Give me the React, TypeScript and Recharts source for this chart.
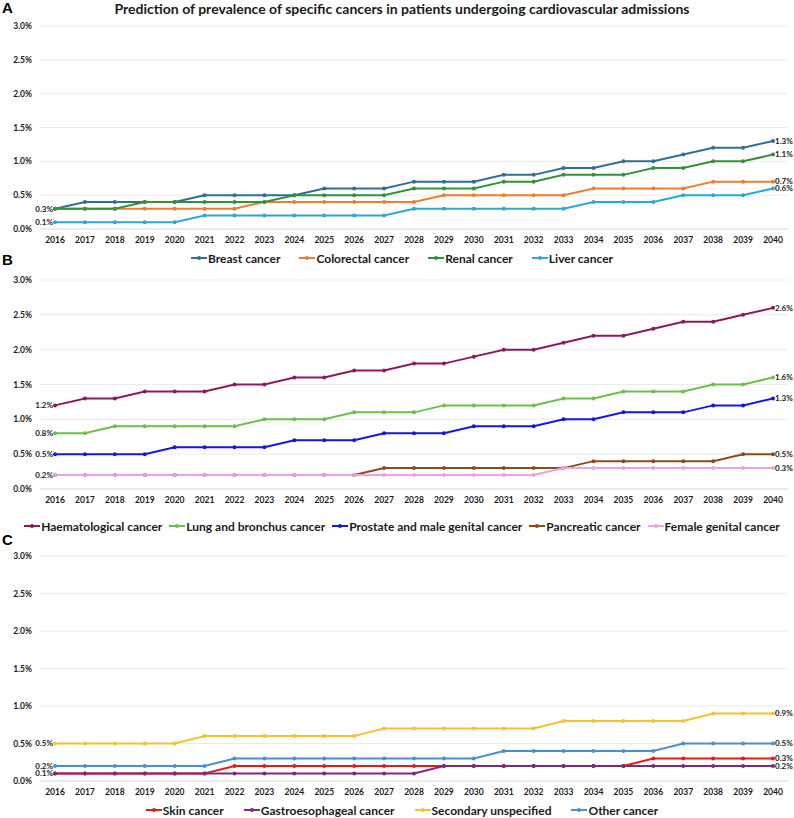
import React from 'react';
import { LineChart, Line, XAxis, YAxis, CartesianGrid, LabelList } from 'recharts';

const years = ['2016','2017','2018','2019','2020','2021','2022','2023','2024','2025','2026','2027','2028','2029','2030','2031','2032','2033','2034','2035','2036','2037','2038','2039','2040'];
const yTicks = [0, 0.5, 1.0, 1.5, 2.0, 2.5, 3.0];

// Panel A
const breast = [0.3,0.4,0.4,0.4,0.4,0.5,0.5,0.5,0.5,0.6,0.6,0.6,0.7,0.7,0.7,0.8,0.8,0.9,0.9,1.0,1.0,1.1,1.2,1.2,1.3];
const colorectal = [0.3,0.3,0.3,0.3,0.3,0.3,0.3,0.4,0.4,0.4,0.4,0.4,0.4,0.5,0.5,0.5,0.5,0.5,0.6,0.6,0.6,0.6,0.7,0.7,0.7];
const renal = [0.3,0.3,0.3,0.4,0.4,0.4,0.4,0.4,0.5,0.5,0.5,0.5,0.6,0.6,0.6,0.7,0.7,0.8,0.8,0.8,0.9,0.9,1.0,1.0,1.1];
const liver = [0.1,0.1,0.1,0.1,0.1,0.2,0.2,0.2,0.2,0.2,0.2,0.2,0.3,0.3,0.3,0.3,0.3,0.3,0.4,0.4,0.4,0.5,0.5,0.5,0.6];

// Panel B
const haematological = [1.2,1.3,1.3,1.4,1.4,1.4,1.5,1.5,1.6,1.6,1.7,1.7,1.8,1.8,1.9,2.0,2.0,2.1,2.2,2.2,2.3,2.4,2.4,2.5,2.6];
const lung = [0.8,0.8,0.9,0.9,0.9,0.9,0.9,1.0,1.0,1.0,1.1,1.1,1.1,1.2,1.2,1.2,1.2,1.3,1.3,1.4,1.4,1.4,1.5,1.5,1.6];
const prostate = [0.5,0.5,0.5,0.5,0.6,0.6,0.6,0.6,0.7,0.7,0.7,0.8,0.8,0.8,0.9,0.9,0.9,1.0,1.0,1.1,1.1,1.1,1.2,1.2,1.3];
const pancreatic = [0.2,0.2,0.2,0.2,0.2,0.2,0.2,0.2,0.2,0.2,0.2,0.3,0.3,0.3,0.3,0.3,0.3,0.3,0.4,0.4,0.4,0.4,0.4,0.5,0.5];
const femaleGenital = [0.2,0.2,0.2,0.2,0.2,0.2,0.2,0.2,0.2,0.2,0.2,0.2,0.2,0.2,0.2,0.2,0.2,0.3,0.3,0.3,0.3,0.3,0.3,0.3,0.3];

// Panel C
const skin = [0.1,0.1,0.1,0.1,0.1,0.1,0.2,0.2,0.2,0.2,0.2,0.2,0.2,0.2,0.2,0.2,0.2,0.2,0.2,0.2,0.3,0.3,0.3,0.3,0.3];
const gastro = [0.1,0.1,0.1,0.1,0.1,0.1,0.1,0.1,0.1,0.1,0.1,0.1,0.1,0.2,0.2,0.2,0.2,0.2,0.2,0.2,0.2,0.2,0.2,0.2,0.2];
const secondary = [0.5,0.5,0.5,0.5,0.5,0.6,0.6,0.6,0.6,0.6,0.6,0.7,0.7,0.7,0.7,0.7,0.7,0.8,0.8,0.8,0.8,0.8,0.9,0.9,0.9];
const other = [0.2,0.2,0.2,0.2,0.2,0.2,0.3,0.3,0.3,0.3,0.3,0.3,0.3,0.3,0.3,0.4,0.4,0.4,0.4,0.4,0.4,0.5,0.5,0.5,0.5];

type Series = { key: string; name: string; color: string; values: number[]; startLabel: boolean };

const seriesA: Series[] = [
  { key: 'breast', name: 'Breast cancer', color: '#2F6F91', values: breast, startLabel: true },
  { key: 'colorectal', name: 'Colorectal cancer', color: '#ED7D31', values: colorectal, startLabel: false },
  { key: 'renal', name: 'Renal cancer', color: '#32913A', values: renal, startLabel: false },
  { key: 'liver', name: 'Liver cancer', color: '#2EA6DA', values: liver, startLabel: true },
];
const seriesB: Series[] = [
  { key: 'haem', name: 'Haematological cancer', color: '#8C1A5C', values: haematological, startLabel: true },
  { key: 'lung', name: 'Lung and bronchus cancer', color: '#6CC04A', values: lung, startLabel: true },
  { key: 'prostate', name: 'Prostate and male genital cancer', color: '#1616E0', values: prostate, startLabel: true },
  { key: 'pancreatic', name: 'Pancreatic cancer', color: '#8E4A18', values: pancreatic, startLabel: false },
  { key: 'female', name: 'Female genital cancer', color: '#E6A5E2', values: femaleGenital, startLabel: true },
];
const seriesC: Series[] = [
  { key: 'skin', name: 'Skin cancer', color: '#E31B1B', values: skin, startLabel: false },
  { key: 'gastro', name: 'Gastroesophageal cancer', color: '#772C7C', values: gastro, startLabel: true },
  { key: 'secondary', name: 'Secondary unspecified', color: '#F2C232', values: secondary, startLabel: true },
  { key: 'other', name: 'Other cancer', color: '#4A90D0', values: other, startLabel: true },
];

const FONT = "Lato, 'Open Sans', sans-serif";

function buildRows(series: Series[]) {
  return years.map((y, i) => {
    const row: Record<string, any> = { year: y };
    series.forEach((s) => { row[s.key] = s.values[i]; });
    return row;
  });
}

function makeLabel(showStart: boolean) {
  return (props: any) => {
    const { x, y, value, index } = props;
    const last = years.length - 1;
    if (index === 0 && showStart) {
      return (
        <text x={x - 2} y={y} dy="0.35em" textAnchor="end" fontSize={8} fontWeight={700} fill="#1a1a1a" fontFamily={FONT}>
          {`${Number(value).toFixed(1)}%`}
        </text>
      );
    }
    if (index === last) {
      return (
        <text x={x + 2} y={y} dy="0.35em" textAnchor="start" fontSize={8} fontWeight={700} fill="#1a1a1a" fontFamily={FONT}>
          {`${Number(value).toFixed(1)}%`}
        </text>
      );
    }
    return null;
  };
}

function Legend({ series, top, gap }: { series: Series[]; top: number; gap: number }) {
  return (
    <div style={{ position: 'absolute', top: top - 8, left: 0, width: 804, height: 16, display: 'flex', justifyContent: 'center', alignItems: 'center', gap, fontFamily: FONT, fontWeight: 700, fontSize: 12, color: '#1a1a1a', whiteSpace: 'nowrap' }}>
      {series.map((s) => (
        <div key={s.key} style={{ display: 'flex', alignItems: 'center' }}>
          <svg width={16} height={8} style={{ marginRight: 1 }}>
            <line x1={0} y1={4} x2={16} y2={4} stroke={s.color} strokeWidth={2} />
            <circle cx={8} cy={4} r={2} fill={s.color} />
          </svg>
          <span>{s.name}</span>
        </div>
      ))}
    </div>
  );
}

function Panel({ series, top, plotHeight }: { series: Series[]; top: number; plotHeight: number }) {
  const rows = buildRows(series);
  const marginTop = 26;
  const xAxisH = 31;
  return (
    <div style={{ position: 'absolute', top, left: 0 }}>
      <LineChart width={794} height={marginTop + plotHeight + xAxisH} data={rows} margin={{ top: marginTop, right: 6, bottom: 0, left: 0 }}>
        <CartesianGrid vertical={false} stroke="#ebebeb" />
        <XAxis dataKey="year" height={xAxisH} tickLine={false} axisLine={{ stroke: '#e0e0e0' }} tickSize={6} tickMargin={2} interval={0}
          padding={{ left: 15, right: 15 }}
          tick={{ fontSize: 8.5, fontWeight: 700, fill: '#1a1a1a', fontFamily: FONT }} />
        <YAxis width={40} domain={[0, 3]} ticks={yTicks} tickLine={false} axisLine={false} tickSize={6} tickMargin={2}
          tickFormatter={(v: number) => `${v.toFixed(1)}%`}
          tick={{ fontSize: 8.5, fontWeight: 700, fill: '#1a1a1a', fontFamily: FONT }} />
        {series.map((s) => (
          <Line key={s.key} type="linear" dataKey={s.key} name={s.name} stroke={s.color} strokeWidth={2}
            dot={{ r: 2, fill: s.color, stroke: s.color, strokeWidth: 0 }} activeDot={false} isAnimationActive={false}>
            <LabelList dataKey={s.key} content={makeLabel(s.startLabel)} />
          </Line>
        ))}
      </LineChart>
    </div>
  );
}

export default function App() {
  return (
    <div style={{ position: 'absolute', left: 0, top: 0, width: 794, height: 818, background: '#fff', overflow: 'hidden', fontFamily: FONT }}>
      <Panel series={seriesA} top={0} plotHeight={203} />
      <Panel series={seriesB} top={254} plotHeight={209} />
      <Panel series={seriesC} top={530} plotHeight={225} />
      <div style={{ position: 'absolute', top: 1, left: 0, width: 804, textAlign: 'center', fontSize: 14, fontWeight: 700, color: '#1a1a1a', fontFamily: FONT, lineHeight: '16px' }}>
        Prediction of prevalence of specific cancers in patients undergoing cardiovascular admissions
      </div>
      <div style={{ position: 'absolute', top: 0, left: 2, fontSize: 15, fontWeight: 700, fontFamily: "'Liberation Sans', Arial, sans-serif", lineHeight: '16px' }}>A</div>
      <div style={{ position: 'absolute', top: 252, left: 2, fontSize: 15, fontWeight: 700, fontFamily: "'Liberation Sans', Arial, sans-serif", lineHeight: '16px' }}>B</div>
      <div style={{ position: 'absolute', top: 532, left: 2, fontSize: 15, fontWeight: 700, fontFamily: "'Liberation Sans', Arial, sans-serif", lineHeight: '16px' }}>C</div>
      <Legend series={seriesA} top={258} gap={19} />
      <Legend series={seriesB} top={526} gap={7} />
      <Legend series={seriesC} top={810} gap={20} />
    </div>
  );
}
